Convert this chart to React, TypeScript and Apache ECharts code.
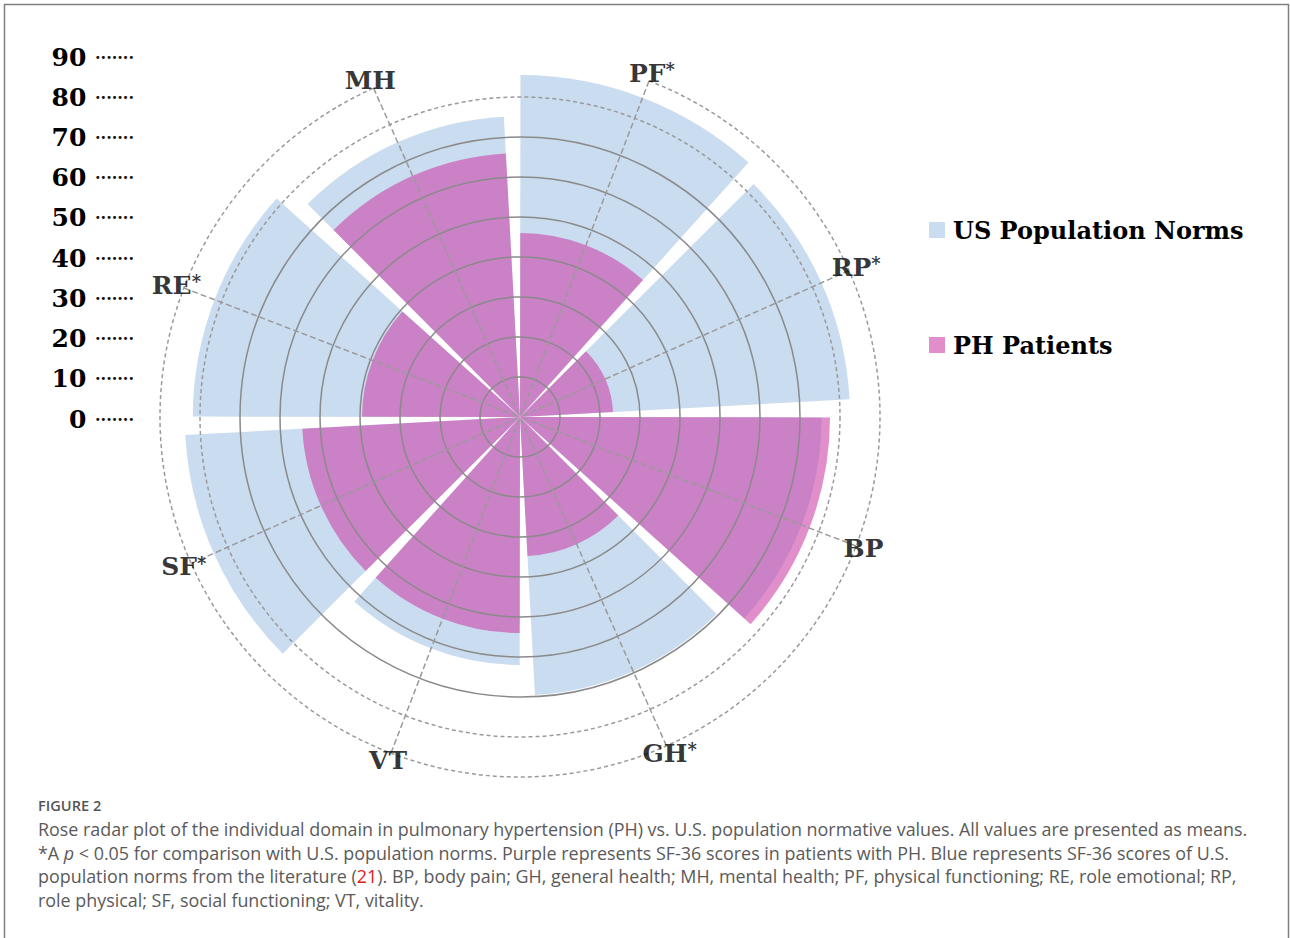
import React, { useEffect, useRef } from 'react';
import * as echarts from 'echarts';

// ---------- data ----------
const categories = ['PF', 'RP', 'BP', 'GH', 'VT', 'SF', 'RE', 'MH'];
const significant = [true, true, false, true, false, true, true, false];
const usNorms = [85.5, 82.5, 75.4, 69.6, 62, 83.8, 81.8, 75.2];
const phPatients = [46, 23.3, 77.5, 34.8, 54, 54.5, 39.5, 66];
const seriesNames = ['US Population Norms', 'PH Patients'];
const scaleMin = 0;
const scaleMax = 90;
const scaleStep = 10;
const solidRingMax = 70;
const dashedRing = 80;
const labelRadiusValue = 92;

const figureLabel = 'FIGURE 2';
const captionLines = [
  'Rose radar plot of the individual domain in pulmonary hypertension (PH) vs. U.S. population normative values. All values are presented as means.',
  '*A {i|p} < 0.05 for comparison with U.S. population norms. Purple represents SF-36 scores in patients with PH. Blue represents SF-36 scores of U.S.',
  'population norms from the literature ({r|21}). BP, body pain; GH, general health; MH, mental health; PF, physical functioning; RE, role emotional; RP,',
  'role physical; SF, social functioning; VT, vitality.',
];

const SERIF = 'DejaVu Serif';
const SANS = 'Open Sans';
const CX = 520;
const CY = 417;
const R = 360;
const BLUE = '#cadcef';
const PURPLE = 'rgba(203,68,168,0.6)';
const CAP_SIZE = 17.9;

export default function App() {
  const ref = useRef<HTMLDivElement>(null);

  useEffect(() => {
    if (!ref.current) return;
    const chart = echarts.init(ref.current, null, { renderer: 'svg' });

    const captionGraphics = captionLines.map((line, i) => ({
      type: 'text',
      x: 38,
      y: 829 + i * 23.7,
      style: {
        text: line,
        fontFamily: SANS,
        fontSize: CAP_SIZE,
        fill: '#5a5a5a',
        verticalAlign: 'middle',
        rich: {
          i: { fontFamily: SANS, fontSize: CAP_SIZE, fontStyle: 'italic', fill: '#5a5a5a' },
          r: { fontFamily: SANS, fontSize: CAP_SIZE, fill: '#e0201b' },
        },
      },
    }));

    const option: any = {
      animation: false,
      backgroundColor: '#ffffff',
      legend: {
        orient: 'vertical',
        left: 929,
        top: 215,
        padding: 0,
        itemWidth: 16,
        itemHeight: 16,
        itemGap: 85,
        icon: 'rect',
        data: seriesNames,
        textStyle: {
          fontFamily: SERIF,
          fontWeight: 'bold',
          fontSize: 24,
          color: '#000',
          lineHeight: 30,
          padding: [0, 0, 0, 3],
        },
      },
      grid: { left: 143, top: 57, height: 362, width: 10 },
      xAxis: { type: 'value', show: false },
      yAxis: {
        type: 'value',
        min: scaleMin,
        max: scaleMax,
        interval: scaleStep,
        axisLine: { show: false },
        axisTick: { show: false },
        splitLine: { show: false },
        axisLabel: {
          margin: 9,
          fontFamily: SERIF,
          fontWeight: 'bold',
          fontSize: 25,
          color: '#000',
          formatter: (v: number) => `{n|${v}} {d|·······}`,
          rich: {
            n: { fontFamily: SERIF, fontWeight: 'bold', fontSize: 25, color: '#000' },
            d: { fontFamily: SERIF, fontWeight: 'bold', fontSize: 16, color: '#111' },
          },
        },
      },
      polar: [
        { center: [CX, CY], radius: R },
        { center: [CX, CY], radius: (R * solidRingMax) / scaleMax },
        { center: [CX, CY], radius: (R * dashedRing) / scaleMax },
      ],
      angleAxis: [
        {
          polarIndex: 0,
          type: 'category',
          data: categories,
          boundaryGap: false,
          startAngle: 69,
          clockwise: true,
          z: 10,
          axisLine: { show: true, lineStyle: { color: '#9a9a9a', type: [4, 3], width: 1.5 } },
          axisTick: { show: false },
          axisLabel: { show: false },
          splitLine: { show: true, lineStyle: { color: '#9a9a9a', type: [6, 3], width: 1.5 } },
        },
        { polarIndex: 1, type: 'value', show: false },
        {
          polarIndex: 2,
          type: 'value',
          z: 10,
          axisLine: { show: true, lineStyle: { color: '#9a9a9a', type: [4, 3], width: 1.5 } },
          axisTick: { show: false },
          axisLabel: { show: false },
          splitLine: { show: false },
        },
      ],
      radiusAxis: [
        { polarIndex: 0, min: scaleMin, max: scaleMax, interval: scaleStep, show: false },
        {
          polarIndex: 1,
          min: scaleMin,
          max: solidRingMax,
          interval: scaleStep,
          z: 10,
          axisLine: { show: false },
          axisTick: { show: false },
          axisLabel: { show: false },
          splitLine: { show: true, lineStyle: { color: '#8a8a8a', width: 1.5 } },
        },
        { polarIndex: 2, show: false },
      ],
      series: [
        {
          type: 'bar',
          name: seriesNames[0],
          coordinateSystem: 'polar',
          polarIndex: 0,
          data: usNorms,
          barCategoryGap: '7%',
          barGap: '-100%',
          itemStyle: { color: BLUE },
        },
        {
          type: 'bar',
          name: seriesNames[1],
          coordinateSystem: 'polar',
          polarIndex: 0,
          data: phPatients,
          barCategoryGap: '7%',
          barGap: '-100%',
          itemStyle: { color: PURPLE },
        },
        {
          type: 'scatter',
          coordinateSystem: 'polar',
          polarIndex: 0,
          data: categories.map((_, i) => [labelRadiusValue, i]),
          symbolSize: 1,
          clip: false,
          silent: true,
          z: 20,
          itemStyle: { color: 'transparent' },
          label: {
            show: true,
            position: 'inside',
            formatter: (p: any) =>
              `{t|${categories[p.dataIndex]}}` + (significant[p.dataIndex] ? '{s|*}' : ''),
            rich: {
              t: { fontFamily: SERIF, fontWeight: 'bold', fontSize: 25, color: '#000' },
              s: { fontFamily: SERIF, fontWeight: 'bold', fontSize: 18, color: '#000', verticalAlign: 'top' },
            },
          },
        },
      ],
      graphic: [
        {
          type: 'rect',
          silent: true,
          shape: { x: 4.5, y: 4.5, width: 1284, height: 980 },
          style: { fill: 'none', stroke: '#808080', lineWidth: 1.5 },
        },
        {
          type: 'text',
          x: 38,
          y: 805,
          style: {
            text: figureLabel,
            fontFamily: SANS,
            fontSize: 14.6,
            fontWeight: 600,
            fill: '#555',
            verticalAlign: 'middle',
          },
        },
        ...captionGraphics,
      ],
    };

    chart.setOption(option);
    return () => chart.dispose();
  }, []);

  return (
    <div
      ref={ref}
      style={{ position: 'absolute', left: 0, top: 0, width: 1290, height: 938 }}
    />
  );
}
